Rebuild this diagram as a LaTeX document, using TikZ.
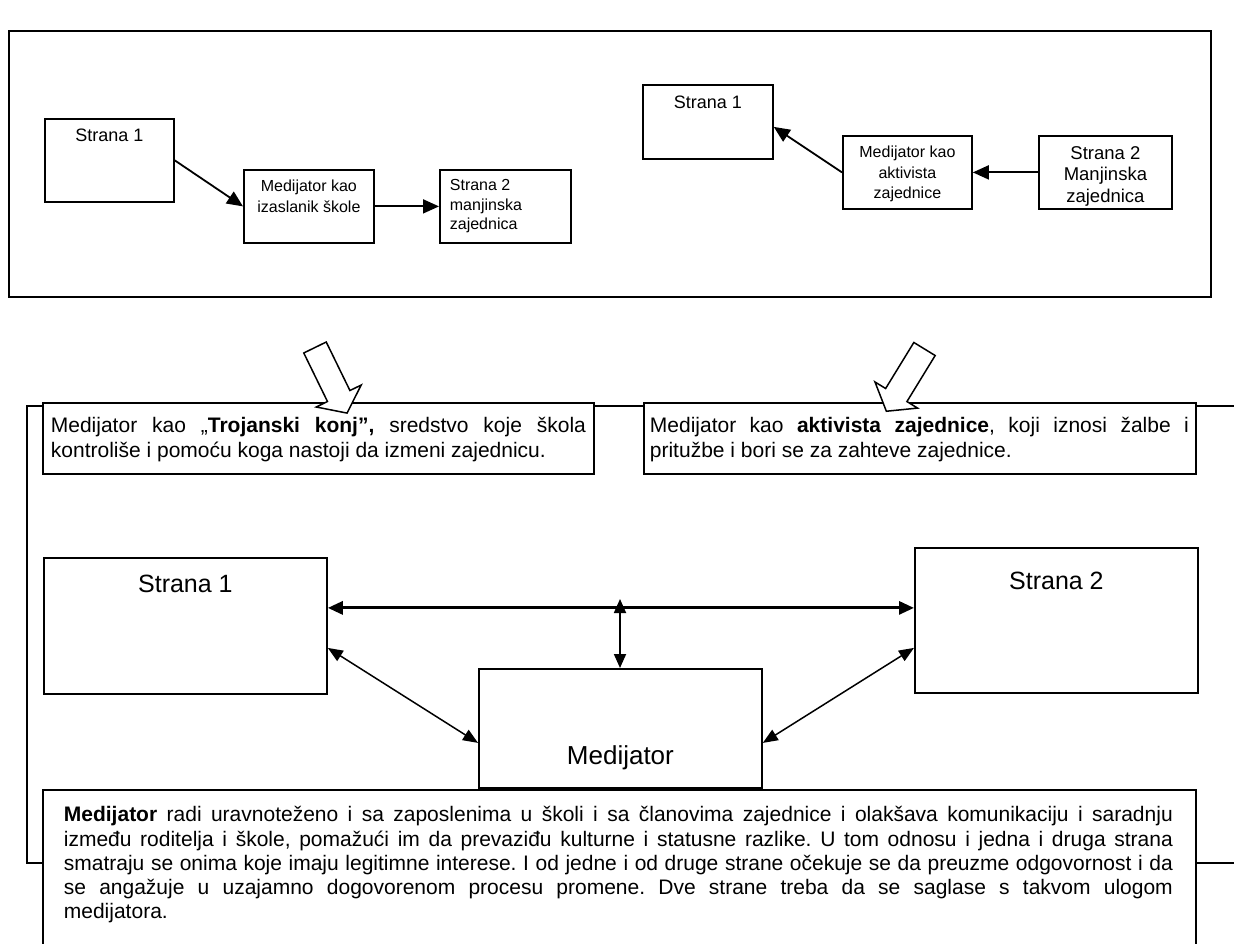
\documentclass[tikz,border=0pt]{standalone}
\usepackage{fontspec}
\setmainfont{Liberation Sans}
\usetikzlibrary{arrows.meta}
\hyphenpenalty=10000 \exhyphenpenalty=10000 \tolerance=10000 \hbadness=10000
\frenchspacing
% width, height, baseline offset from top, font size, baselineskip, content
\newcommand{\boxin}[6]{\parbox[t][#2pt][t]{#1pt}{\fontsize{#4}{#5}\selectfont\frenchspacing\vspace*{\dimexpr#3pt-#4pt\relax}\rule{0pt}{#4pt}#6}}
\begin{document}
\begin{tikzpicture}[x=1pt,y=-1pt,
  bx/.style={draw, line width=1.8pt, inner sep=0pt, anchor=north west, fill=white},
  frm/.style={draw, line width=1.8pt},
  arr/.style={line width=1.8pt, -{Triangle[length=16pt,width=14pt]}},
  thk/.style={line width=3pt, {Triangle[length=15pt,width=13pt]}-{Triangle[length=15pt,width=13pt]}},
  dbl/.style={line width=1.8pt, {Triangle[length=14pt,width=12pt]}-{Triangle[length=14pt,width=12pt]}},
  dia/.style={line width=1.5pt, {Triangle[length=15pt,width=12pt]}-{Triangle[length=15pt,width=12pt]}},
  hol/.style={draw, line width=1.5pt, fill=white, line join=miter}]
\useasboundingbox (0,0) rectangle (1234,944);
\clip (0,0) rectangle (1234,944);

% ---------- top frame ----------
\draw[frm] (9,31) rectangle (1211,297);

% top-left diagram
\node[bx] (s1a) at (44,118) {\boxin{129}{83}{22.5}{18}{21}{\centering Strana 1}};
\node[bx] (m1) at (243,169) {\boxin{130}{73}{22}{16}{21}{\centering Medijator kao\\izaslanik škole}};
\node[bx] (s2a) at (439,169) {\boxin{131}{73}{21}{16}{19.5}{\raggedright\leftskip=10pt Strana 2\\manjinska\\zajednica}};
\draw[arr] (s1a.east) -- (m1.west);
\draw[arr] (m1.east) -- (s2a.west);

% top-right diagram
\node[bx] (s1b) at (642,84) {\boxin{130}{74}{23.5}{18}{21}{\centering Strana 1}};
\node[bx] (m2) at (842,135) {\boxin{129}{73}{22}{16}{20.5}{\centering Medijator kao\\aktivista\\zajednice}};
\node[bx] (s2b) at (1038,135) {\boxin{133}{73}{23.5}{18.5}{21.5}{\centering Strana 2\\Manjinska\\zajednica}};
\draw[arr] (m2.west) -- ([yshift=-5pt]s1b.east);
\draw[arr] (s2b.west) -- (m2.east);

% ---------- lower frame ----------
\draw[frm] (27,406) rectangle (1270,863);

% text boxes under the hollow arrows
\node[bx] (t1) at (42,402) {\boxin{551}{71}{29.5}{21}{25}{\leftskip=8pt\rightskip=8pt Medijator kao „\textbf{Trojanski konj”,} sredstvo koje škola\linebreak kontroliše i pomoću koga nastoji da izmeni zajednicu.}};
\node[bx] (t2) at (643,402) {\boxin{552}{71}{29.5}{21}{25}{\leftskip=6pt\rightskip=7pt Medijator kao \textbf{aktivista zajednice}, koji iznosi žalbe i\linebreak pritužbe i bori se za zahteve zajednice.}};

% hollow block arrows
\begin{scope}[shift={(315,347.5)},rotate=-63.96]
\draw[hol] (0,-12.5) -- (54,-12.5) -- (54,-25) -- (73,0) -- (54,25) -- (54,12.5) -- (0,12.5) -- cycle;
\end{scope}
\begin{scope}[shift={(924.5,349)},rotate=-121.5]
\draw[hol] (0,-12.5) -- (54,-12.5) -- (54,-25) -- (73,0) -- (54,25) -- (54,12.5) -- (0,12.5) -- cycle;
\end{scope}

% bottom diagram
\node[bx] (s1c) at (43,557) {\boxin{283}{136}{35}{25}{29}{\centering Strana 1}};
\node[bx] (s2c) at (914,547) {\boxin{283}{145}{42}{25}{29}{\centering Strana 2}};
\node[bx] (md) at (478,668) {\boxin{283}{119}{96}{26}{30}{\centering Medijator}};
\coordinate (vt) at (620,599);
\draw[thk] ([yshift=18pt]s1c.east) -- ([yshift=12.5pt]s2c.west);
\draw[dbl] (vt) -- (vt |- md.north);
\draw[dia] ([yshift=-22pt]s1c.east) -- ([yshift=-14.5pt]md.west);
\draw[dia] ([yshift=-14.5pt]md.east) -- ([yshift=-27.5pt]s2c.west);

% bottom text box
\node[bx] (tb) at (42,789) {\boxin{1153}{171}{32}{21}{24.2}{\leftskip=21pt\rightskip=23pt \textbf{Medijator} radi uravnoteženo i sa zaposlenima u školi i sa članovima zajednice i olakšava komunikaciju i saradnju\linebreak između roditelja i škole, pomažući im da prevaziđu kulturne i statusne razlike. U tom odnosu i jedna i druga strana\linebreak smatraju se onima koje imaju legitimne interese. I od jedne i od druge strane očekuje se da preuzme odgovornost i da\linebreak se angažuje u uzajamno dogovorenom procesu promene. Dve strane treba da se saglase s takvom ulogom\linebreak medijatora.}};
\end{tikzpicture}
\end{document}
